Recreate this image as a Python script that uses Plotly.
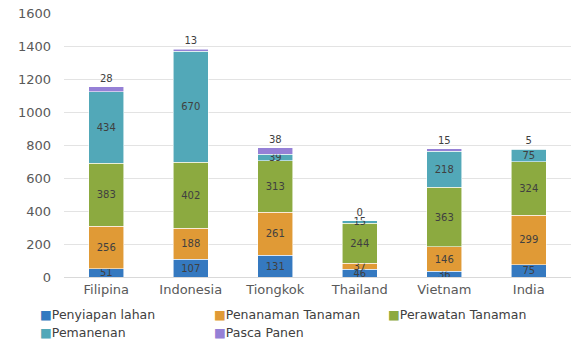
import plotly.graph_objects as go

countries = ["Filipina", "Indonesia", "Tiongkok", "Thailand", "Vietnam", "India"]
penyiapan = [51, 107, 131, 46, 36, 75]
penanaman = [256, 188, 261, 37, 146, 299]
perawatan = [383, 402, 313, 244, 363, 324]
pemanenan = [434, 670, 39, 15, 218, 75]
pasca = [28, 13, 38, 0, 15, 5]
y_ticks = [0, 200, 400, 600, 800, 1000, 1200, 1400, 1600]

series = [
    ("Penyiapan lahan", penyiapan, "#3579C0"),
    ("Penanaman Tanaman", penanaman, "#E09A36"),
    ("Perawatan Tanaman", perawatan, "#8CAA40"),
    ("Pemanenan", pemanenan, "#52A8B8"),
    ("Pasca Panen", pasca, "#9580D6"),
]

FONT = "DejaVu Sans, Liberation Sans, Arial"
W, H = 574, 340
ML, MR, MT, MB = 64, 3, 13, 63
PW, PH = W - ML - MR, H - MT - MB

fig = go.Figure()
for i, (name, vals, col) in enumerate(series):
    last = i == len(series) - 1
    fig.add_trace(go.Bar(
        x=countries, y=vals, name=name,
        marker=dict(color=col, line=dict(color="rgba(255,255,255,0.7)", width=0.8)),
        text=[str(v) for v in vals],
        textposition="outside" if last else "inside",
        insidetextanchor="middle",
        textfont=dict(family=FONT, size=10, color="#404040"),
        cliponaxis=False,
        hoverinfo="skip",
        showlegend=False,
    ))

# legend drawn as text entries (marker glyph + name), laid out as in the reference
legend_pos = [(41, 314), (215, 314), (389, 314), (41, 332), (215, 332)]
annotations = []
for (name, _, col), (px, py) in zip(series, legend_pos):
    annotations.append(dict(
        xref="paper", yref="paper",
        x=(px - 2 - ML) / PW, y=(H - MB - py) / PH,
        xanchor="left", yanchor="middle", showarrow=False, borderpad=0,
        text=f"<span style='color:{col}'>■</span>{name}",
        font=dict(family=FONT, size=12.5, color="#404040"),
    ))

fig.update_layout(
    width=W, height=H,
    barmode="stack", bargap=0.59,
    plot_bgcolor="white", paper_bgcolor="white",
    margin=dict(l=ML, r=MR, t=MT, b=MB, autoexpand=False),
    font=dict(family=FONT, color="#595959"),
    uniformtext=dict(minsize=10, mode="show"),
    xaxis=dict(tickfont=dict(size=13, color="#595959"), showline=True,
               linecolor="#D9D9D9", ticks="", fixedrange=True),
    yaxis=dict(range=[0, 1600], tickvals=y_ticks, tickfont=dict(size=13, color="#595959"),
               gridcolor="#E3E3E3", gridwidth=1, zeroline=False, ticks="",
               ticklabelstandoff=12, fixedrange=True),
    annotations=annotations,
    showlegend=False,
)

fig.write_html("out.html")
